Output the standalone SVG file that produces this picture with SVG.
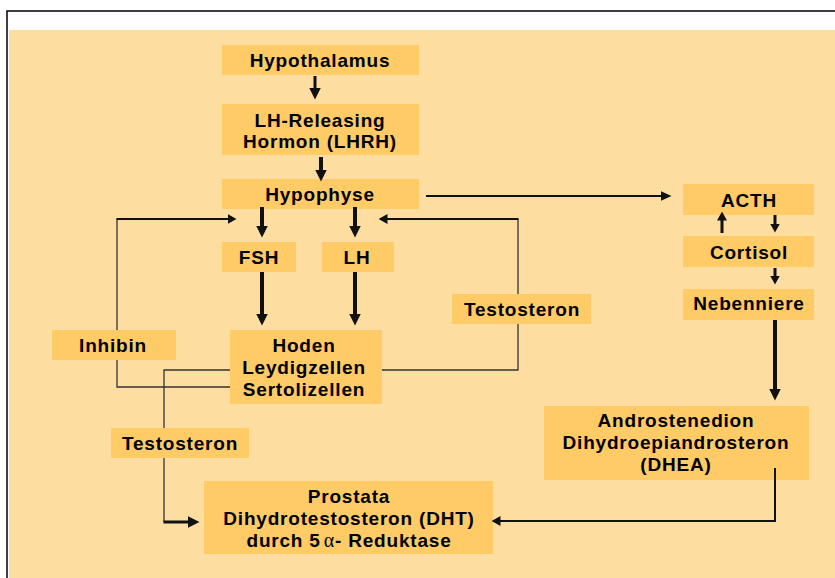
<svg xmlns="http://www.w3.org/2000/svg" width="835" height="578" viewBox="0 0 835 578">
<defs>
<style>
.bg{fill:#FEDEA0}
.box{fill:#FFCB66}
.t{font-family:"Liberation Sans",Arial,Helvetica,sans-serif;font-weight:bold;font-size:19px;letter-spacing:0.8px;fill:#000;text-anchor:middle}
.c{fill:none;stroke:#111;stroke-linecap:butt;stroke-linejoin:miter}
.w4{stroke-width:4}
.w3{stroke-width:3}
.w2{stroke-width:2}
.w1{stroke-width:1.3;stroke:#333}
.alpha{font-family:"Liberation Serif","Times New Roman",serif;font-weight:normal;font-size:20px}
</style>
<marker id="big" markerUnits="userSpaceOnUse" markerWidth="12" markerHeight="12" refX="0.5" refY="6" orient="auto" viewBox="0 0 12 12"><path d="M0,0 L12,6 L0,12 z" fill="#111"/></marker>
<marker id="mid" markerUnits="userSpaceOnUse" markerWidth="9" markerHeight="10" refX="0.5" refY="5" orient="auto" viewBox="0 0 9 10"><path d="M0,0 L9,5 L0,10 z" fill="#111"/></marker>
<marker id="thin" markerUnits="userSpaceOnUse" markerWidth="11" markerHeight="10" refX="0.5" refY="5" orient="auto" viewBox="0 0 11 10"><path d="M0,0 L11,5 L0,10 z" fill="#111"/></marker>
</defs>
<rect x="0" y="0" width="835" height="578" fill="#fff"/>
<rect class="bg" x="9" y="30" width="826" height="548"/>
<path d="M7,578 V11 H835" fill="none" stroke="#000" stroke-width="1.5"/>

<g id="hypothalamus"><rect class="box" x="222" y="45" width="197" height="30"/><text class="t" x="320" y="67">Hypothalamus</text></g>
<g id="lhrh"><rect class="box" x="222" y="104" width="197" height="51"/><text class="t" x="320" y="127">LH-Releasing</text><text class="t" x="320" y="148">Hormon (LHRH)</text></g>
<g id="hypophyse"><rect class="box" x="222" y="179" width="197" height="30"/><text class="t" x="320" y="201">Hypophyse</text></g>
<g id="fsh"><rect class="box" x="222" y="242" width="74" height="30"/><text class="t" x="259" y="264">FSH</text></g>
<g id="lh"><rect class="box" x="322" y="242" width="72" height="30"/><text class="t" x="357" y="264">LH</text></g>
<g id="hoden"><rect class="box" x="230" y="330" width="152" height="74"/><text class="t" x="304" y="352">Hoden</text><text class="t" x="304" y="374">Leydigzellen</text><text class="t" x="304" y="396">Sertolizellen</text></g>
<g id="acth"><rect class="box" x="683" y="184" width="131" height="31"/><text class="t" x="749" y="207">ACTH</text></g>
<g id="cortisol"><rect class="box" x="683" y="236" width="131" height="31"/><text class="t" x="749" y="259">Cortisol</text></g>
<g id="nebenniere"><rect class="box" x="683" y="289" width="131" height="31"/><text class="t" x="749" y="310">Nebenniere</text></g>
<g id="androstenedion"><rect class="box" x="544" y="406" width="265" height="74"/><text class="t" x="676" y="427">Androstenedion</text><text class="t" x="676" y="449">Dihydroepiandrosteron</text><text class="t" x="676" y="471">(DHEA)</text></g>
<g id="prostata"><rect class="box" x="204" y="481" width="289" height="73"/><text class="t" x="349" y="503">Prostata</text><text class="t" x="349" y="525">Dihydrotestosteron (DHT)</text><text class="t" x="349" y="547">durch 5<tspan class="alpha" dx="3">α</tspan>- Reduktase</text></g>

<g id="connectors">
<path class="c w3" d="M315,76 V88" marker-end="url(#big)"/>
<path class="c w4" d="M321,157 V170" marker-end="url(#big)"/>
<path class="c w4" d="M262,207 V226" marker-end="url(#big)"/>
<path class="c w4" d="M355,207 V226" marker-end="url(#big)"/>
<path class="c w4" d="M262,272 V314" marker-end="url(#big)"/>
<path class="c w4" d="M355,272 V314" marker-end="url(#big)"/>
<path class="c w2" d="M426,196 H661" marker-end="url(#thin)"/>
<path class="c w1" d="M230,387 H117 V219"/>
<path class="c w2" d="M116.5,219 H228" marker-end="url(#mid)"/>
<path class="c w1" d="M382,370 H518 V219"/>
<path class="c w2" d="M518.5,219 H387" marker-end="url(#mid)"/>
<path class="c w1" d="M230,370 H164 V522"/>
<path class="c w3" d="M163.5,522 H188" marker-end="url(#big)"/>
<path class="c w2" d="M775,468 V521 H500" marker-end="url(#mid)"/>
<path class="c w3" d="M775,215 V224" marker-end="url(#mid)"/>
<path class="c w3" d="M722,233 V220" marker-end="url(#mid)"/>
<path class="c w3" d="M775,268 V276" marker-end="url(#mid)"/>
<path class="c w4" d="M775,320 V389" marker-end="url(#big)"/>
</g>

<g id="inhibin"><rect class="box" x="52" y="330" width="124" height="30"/><text class="t" x="113" y="352">Inhibin</text></g>
<g id="testosteron-rechts"><rect class="box" x="452" y="294" width="139" height="30"/><text class="t" x="522" y="316">Testosteron</text></g>
<g id="testosteron-links"><rect class="box" x="111" y="428" width="138" height="30"/><text class="t" x="180" y="450">Testosteron</text></g>
</svg>
